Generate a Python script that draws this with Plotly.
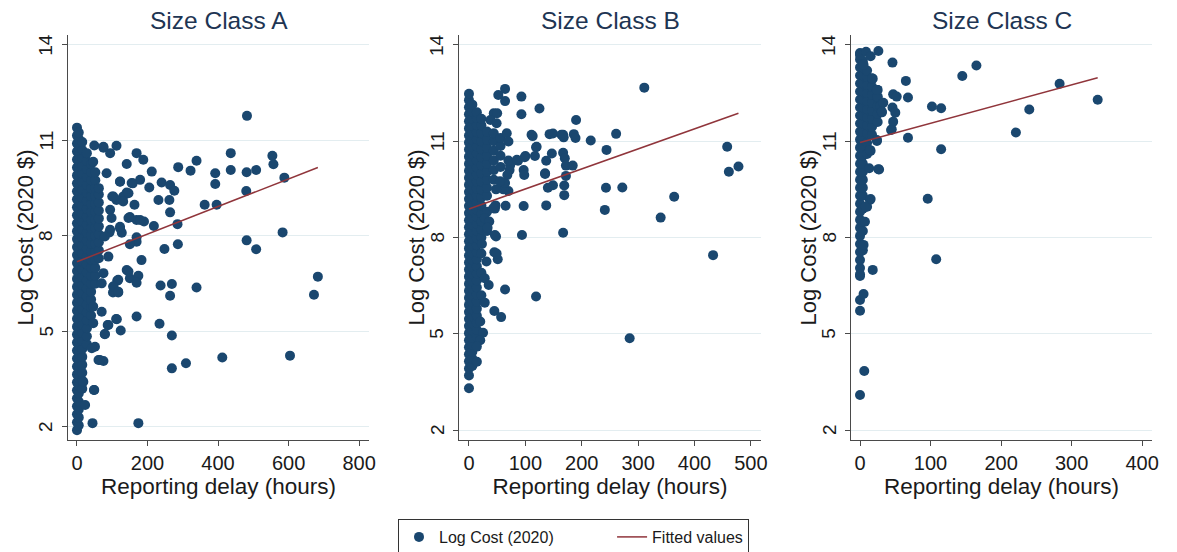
import plotly.graph_objects as go

# ---------------- data ----------------
# Panel A: dense core near zero delay, given as columns (delay, list of log costs)
a_col_delay = [0, 5, 15, 28, 40, 52, 62]
a_col_cost = [
    [1.9, 2.15, 2.4, 2.65, 2.9, 3.15, 3.4, 3.65, 3.9, 4.15, 4.4, 4.65, 4.9, 5.15, 5.4, 5.65, 5.9, 6.15, 6.4, 6.65,
     6.9, 7.15, 7.4, 7.65, 7.9, 8.15, 8.4, 8.65, 8.9, 9.15, 9.4, 9.65, 9.9, 10.15, 10.4, 10.65, 10.9, 11.15, 11.4],
    [2.05, 2.3, 2.55, 2.8, 3.05, 3.3, 3.55, 3.8, 4.05, 4.3, 4.55, 4.8, 5.05, 5.3, 5.55, 5.8, 6.05, 6.3, 6.55, 6.8,
     7.05, 7.3, 7.55, 7.8, 8.05, 8.3, 8.55, 8.8, 9.05, 9.3, 9.55, 9.8, 10.05, 10.3, 10.55, 10.8, 11.05, 11.25],
    [3.2, 3.45, 3.7, 3.95, 4.2, 4.45, 4.7, 4.95, 5.2, 5.45, 5.7, 5.95, 6.2, 6.45, 6.7, 6.95, 7.2, 7.45, 7.7, 7.95,
     8.2, 8.45, 8.7, 8.95, 9.2, 9.45, 9.7, 9.95, 10.2, 10.45, 10.7, 10.95],
    [4.6, 4.85, 5.1, 5.35, 5.6, 5.85, 6.1, 6.35, 6.6, 6.85, 7.1, 7.35, 7.6, 7.85, 8.1, 8.35, 8.6, 8.85, 9.1, 9.35,
     9.6, 9.85, 10.1, 10.35, 10.6],
    [5.5, 5.75, 6.0, 6.25, 6.5, 6.75, 7.0, 7.25, 7.5, 7.75, 8.0, 8.25, 8.5, 8.75, 9.0, 9.25, 9.5, 9.75, 10.0, 10.25],
    [6.5, 6.75, 7.0, 7.25, 7.5, 7.75, 8.0, 8.25, 8.5, 8.75, 9.0, 9.25, 9.5, 9.75, 10.0],
    [7.3, 7.55, 7.8, 8.05, 8.3, 8.55, 8.8, 9.05, 9.3, 9.5],
]
a_out_delay = [482, 112, 75, 49, 169, 188, 141, 212, 287, 339, 322, 436, 436, 392, 392, 481, 508, 554, 557, 588,
               480, 362, 396, 240, 264, 276, 262, 231, 264, 205, 122, 158, 179, 141, 131, 112, 163, 100, 150, 169,
               190, 218, 285, 122, 127, 92, 169, 169, 150, 248, 286, 481, 508, 583, 183, 141, 150, 174, 169, 114,
               103, 117, 102, 237, 269, 264, 339, 683, 672, 169, 111, 124, 87, 79, 234, 269, 51, 61, 75, 309,
               269, 412, 604, 49, 44, 174, 23, 18,
               94, 75, 46, 84, 122, 155, 103, 131, 146, 94, 98, 146, 179, 122, 94, 79, 89, 75, 117, 146,
               70, 103, 117, 46, 70, 113, 89, 79, 46, 42, 65, 48]
a_out_cost = [11.77, 10.83, 10.77, 10.84, 10.60, 10.39, 10.26, 10.02, 10.16, 10.36, 10.05, 10.60, 10.07, 9.97, 9.63,
              10.00, 10.07, 10.52, 10.25, 9.83, 9.41, 8.98, 8.98, 9.68, 9.60, 9.42, 9.13, 9.13, 8.74, 9.52, 9.70,
              9.65, 9.76, 9.36, 9.24, 9.13, 8.98, 9.24, 8.59, 8.50, 8.45, 8.31, 8.37, 8.24, 8.10, 8.11, 7.96, 7.82,
              7.74, 7.59, 7.74, 7.86, 7.58, 8.11, 7.24, 6.93, 6.67, 6.75, 6.53, 6.59, 6.41, 6.22, 6.22, 6.44, 6.49,
              6.12, 6.38, 6.72, 6.15, 5.47, 5.39, 5.03, 5.20, 4.91, 5.24, 4.87, 4.52, 4.10, 4.07, 4.00, 3.84, 4.18,
              4.24, 3.16, 2.12, 2.12, 2.69, 3.42,
              10.6, 10.8, 10.33, 9.97, 9.71, 9.66, 9.24, 9.08, 9.34, 8.82, 8.56, 8.56, 8.5, 8.29, 8.19, 7.98, 7.35,
              6.83, 6.62, 6.88, 6.51, 6.41, 6.25, 5.78, 5.62, 5.38, 5.2, 4.92, 5.26, 4.47, 4.1, 3.16]

# Panel B
b_col_delay = [0, 6, 14, 22, 32, 44, 56]
b_col_cost = [
    [3.3, 3.7, 3.92, 4.14, 4.36, 4.58, 4.8, 5.02, 5.24, 5.46, 5.68, 5.9, 6.12, 6.34, 6.56, 6.78, 7.0, 7.22, 7.44,
     7.66, 7.88, 8.1, 8.32, 8.54, 8.76, 8.98, 9.2, 9.42, 9.64, 9.86, 10.08, 10.3, 10.52, 10.74, 10.96, 11.18, 11.4,
     11.62, 11.84, 12.06, 12.28, 12.48],
    [4.0, 4.22, 4.44, 4.66, 4.88, 5.1, 5.32, 5.54, 5.76, 5.98, 6.2, 6.42, 6.64, 6.86, 7.08, 7.3, 7.52, 7.74, 7.96,
     8.18, 8.4, 8.62, 8.84, 9.06, 9.28, 9.5, 9.72, 9.94, 10.16, 10.38, 10.6, 10.82, 11.04, 11.26, 11.48, 11.7,
     11.92, 12.14],
    [4.9, 5.12, 5.34, 5.56, 5.78, 6.0, 6.22, 6.44, 6.66, 6.88, 7.1, 7.32, 7.54, 7.76, 7.98, 8.2, 8.42, 8.64, 8.86,
     9.08, 9.3, 9.52, 9.74, 9.96, 10.18, 10.4, 10.62, 10.84, 11.06, 11.28, 11.5, 11.72, 11.9],
    [6.2, 6.9, 7.5, 8.0, 8.25, 8.5, 8.75, 9.0, 9.25, 9.5, 9.75, 10.0, 10.25, 10.5, 10.75, 11.0, 11.25, 11.5, 11.7],
    [8.2, 8.8, 9.3, 9.55, 9.8, 10.05, 10.3, 10.55, 10.8, 11.05, 11.3],
    [9.8, 10.1, 10.4, 10.7, 11.0, 11.25],
    [10.2, 10.55, 10.85, 11.1],
]
b_out_delay = [64, 52, 64, 93, 93, 125, 311, 190, 44, 50, 38, 113, 143, 149, 167, 168, 186, 189, 216, 261, 119, 117,
               147, 137, 167, 170, 100, 87, 97, 98, 135, 172, 184, 172, 244, 458, 461, 478, 140, 149, 169, 169, 243,
               272, 364, 137, 97, 65, 241, 340, 94, 167, 48, 45, 51, 433, 64, 119, 28, 45, 57, 285, 20, 25, 20, 14,
               14, 28, 36, 33, 23, 31, 28, 35, 70, 61, 48, 46, 47, 64, 55, 72, 73, 70, 68,
               49, 67, 70, 111, 164, 85, 99, 120, 135, 43, 46, 49]
b_out_cost = [12.63, 12.44, 12.25, 12.39, 11.84, 12.02, 12.67, 11.66, 11.87, 11.87, 11.66, 11.16, 11.22, 11.24, 11.2,
              11.12, 11.22, 11.1, 11.02, 11.23, 10.81, 10.54, 10.62, 10.39, 10.64, 10.47, 10.54, 10.39, 10.1, 9.95,
              9.98, 10.24, 10.24, 9.92, 10.73, 10.83, 10.05, 10.21, 9.55, 9.63, 9.62, 9.32, 9.55, 9.56, 9.27, 9.0,
              8.98, 8.99, 8.86, 8.62, 8.08, 8.15, 8.03, 7.54, 7.32, 7.45, 6.38, 6.16, 5.97, 5.71, 5.52, 4.86, 5.38,
              5.03, 4.8, 4.6, 4.13, 8.6, 8.5, 8.3, 7.8, 7.25, 6.73, 6.52, 9.45, 9.5, 9.5, 8.9, 9.0, 9.7, 9.75, 10.1,
              10.25, 10.4, 9.95,
              11.56, 11.25, 10.99, 11.2, 11.2, 10.42, 10.5, 10.83, 10.0, 8.91, 8.08, 7.5]

# Panel C
c_col_delay = [0, 4, 10, 17, 25]
c_col_cost = [
    [6.8, 7.05, 7.3, 7.55, 7.8, 8.05, 8.3, 8.55, 8.8, 9.05, 9.3, 9.55, 9.8, 10.05, 10.3, 10.55, 10.8, 11.05, 11.3,
     11.55, 11.8, 12.05, 12.3, 12.55, 12.8, 13.05, 13.3, 13.55, 13.75],
    [7.6, 8.2, 8.9, 9.3, 9.55, 9.8, 10.05, 10.3, 10.55, 10.8, 11.05, 11.3, 11.55, 11.8, 12.05, 12.3, 12.55, 12.8,
     13.05, 13.3, 13.5],
    [10.6, 10.95, 11.25, 11.5, 11.75, 12.0, 12.25, 12.5, 12.75, 13.0, 13.2],
    [11.2, 11.45, 11.7, 11.95, 12.2, 12.45, 12.7, 12.95],
    [11.6, 11.85, 12.1, 12.35, 12.6],
]
c_out_delay = [0, 8.5, 26, 15, 5, 46, 165, 145, 65, 18, 283, 47, 52, 68, 24, 25, 337, 102, 115, 240, 46, 50, 45, 47,
               31, 29, 33, 221, 68, 24, 115, 15, 13, 27, 96, 15, 10, 7, 108, 18, 5, 0, 0, 5, 0, 6, 0,
               44, 17, 24, 31, 24, 14, 26, 14, 8]
c_out_cost = [13.69, 13.79, 13.81, 13.65, 13.38, 13.45, 13.36, 13.03, 12.88, 12.95, 12.79, 12.46, 12.39, 12.36, 12.6,
              12.39, 12.29, 12.08, 12.03, 11.99, 12.05, 11.89, 11.37, 11.61, 11.9, 12.1, 12.2, 11.27, 11.11, 11.01,
              10.75, 10.70, 10.16, 10.12, 9.21, 9.2, 8.96, 8.49, 7.32, 6.99, 7.77, 6.85, 6.05, 6.24, 5.72, 3.84,
              3.09,
              11.35, 12.96, 12.6, 11.92, 11.04, 10.73, 10.13, 9.17, 8.96]

# Fitted lines (endpoints)
a_fit_delay = [0, 683]
a_fit_cost = [7.19, 10.15]
b_fit_delay = [0, 478]
b_fit_cost = [8.89, 11.87]
c_fit_delay = [0, 337]
c_fit_cost = [10.96, 12.98]

titles = ["Size Class A", "Size Class B", "Size Class C"]
x_ticks = [[0, 200, 400, 600, 800], [0, 100, 200, 300, 400, 500], [0, 100, 200, 300, 400]]
y_ticks = [2, 5, 8, 11, 14]
legend_names = ["Log Cost (2020)", "Fitted values"]
x_title = "Reporting delay (hours)"
y_title = "Log Cost (2020 $)"


def assemble(col_delay, col_cost, out_delay, out_cost):
    xs, ys = [], []
    for d, costs in zip(col_delay, col_cost):
        xs += [d] * len(costs)
        ys += list(costs)
    return xs + list(out_delay), ys + list(out_cost)


panels = [
    assemble(a_col_delay, a_col_cost, a_out_delay, a_out_cost),
    assemble(b_col_delay, b_col_cost, b_out_delay, b_out_cost),
    assemble(c_col_delay, c_col_cost, c_out_delay, c_out_cost),
]
fits = [(a_fit_delay, a_fit_cost), (b_fit_delay, b_fit_cost), (c_fit_delay, c_fit_cost)]

# ---------------- styling ----------------
W, H = 1177, 552
FONT = "Arial, Liberation Sans, sans-serif"
NAVY = "#1a476f"
MAROON = "#90353b"
GRID = "#e3edf0"
AXIS = "#4a4a4a"
TXT = "#1a1a1a"
TITLE = "#1e3553"
PAD = "\u00a0" * 12  # spacing after the first legend entry

x_dom_px = [(68, 369), (459, 761), (851, 1152)]
x_ranges = [[-25.5, 828], [-17.7, 518], [-12.8, 414]]
y_ranges = [[1.59, 14.31], [1.69, 14.31], [1.69, 14.31]]

fig = go.Figure()
for i in range(3):
    sfx = "" if i == 0 else str(i + 1)
    xs, ys = panels[i]
    fig.add_trace(go.Scatter(
        x=xs, y=ys, mode="markers", name=legend_names[0] + PAD,
        marker=dict(color=NAVY, size=10, line=dict(width=0)),
        showlegend=(i == 0), xaxis="x" + sfx, yaxis="y" + sfx,
    ))
for i in range(3):
    sfx = "" if i == 0 else str(i + 1)
    fx, fy = fits[i]
    fig.add_trace(go.Scatter(
        x=fx, y=fy, mode="lines", name=legend_names[1],
        line=dict(color=MAROON, width=1.5),
        showlegend=(i == 0), xaxis="x" + sfx, yaxis="y" + sfx,
    ))

layout = dict(
    width=W, height=H,
    margin=dict(l=0, r=0, t=35, b=112, autoexpand=False),
    paper_bgcolor="white", plot_bgcolor="white",
    font=dict(family=FONT, color=TXT),
    showlegend=True,
    legend=dict(
        orientation="h", x=398 / W, xanchor="left", y=-(519 - 440) / 405, yanchor="top",
        bordercolor="#333333", borderwidth=1, bgcolor="white",
        font=dict(size=16, family=FONT, color=TXT),
        traceorder="normal",
    ),
    annotations=[],
)
for i in range(3):
    sfx = "" if i == 0 else str(i + 1)
    x0, x1 = x_dom_px[i]
    layout["xaxis" + sfx] = dict(
        domain=[x0 / W, x1 / W], range=x_ranges[i], anchor="y" + sfx,
        tickvals=x_ticks[i], ticks="outside", ticklen=5, tickcolor=AXIS,
        showline=True, linecolor=AXIS, linewidth=1, showgrid=False, zeroline=False,
        tickfont=dict(size=20, family=FONT, color=TXT), automargin=False,
        title=dict(text=x_title, font=dict(size=22.5, family=FONT, color=TXT), standoff=2),
        fixedrange=True,
    )
    layout["yaxis" + sfx] = dict(
        domain=[0, 1], range=y_ranges[i], anchor="x" + sfx,
        tickvals=y_ticks, ticks="outside", ticklen=5, tickcolor=AXIS,
        showticklabels=False,
        showline=True, linecolor=AXIS, linewidth=1, showgrid=True, gridcolor=GRID, gridwidth=1,
        zeroline=False, automargin=False,
        fixedrange=True,
    )
    # rotated y tick labels (Stata style), placed at the tick values of this axis
    for v in y_ticks:
        layout["annotations"].append(dict(
            text=str(v), xref="paper", yref="y" + sfx, x=(x0 - 22) / W, y=v,
            textangle=-90, xanchor="center", yanchor="middle", showarrow=False,
            font=dict(size=19, family=FONT, color=TXT),
        ))
    layout["annotations"].append(dict(
        text=titles[i], xref="paper", yref="paper",
        x=(x0 + x1) / 2 / W, y=1 + 15 / 405, xanchor="center", yanchor="middle",
        showarrow=False, font=dict(size=24.5, family=FONT, color=TITLE),
    ))
    layout["annotations"].append(dict(
        text=y_title, xref="paper", yref="paper", textangle=-90,
        x=(x0 - 43) / W, y=0.5, xanchor="center", yanchor="middle",
        showarrow=False, font=dict(size=22, family=FONT, color=TXT),
    ))

fig.update_layout(**layout)
fig.write_html("out.html")
